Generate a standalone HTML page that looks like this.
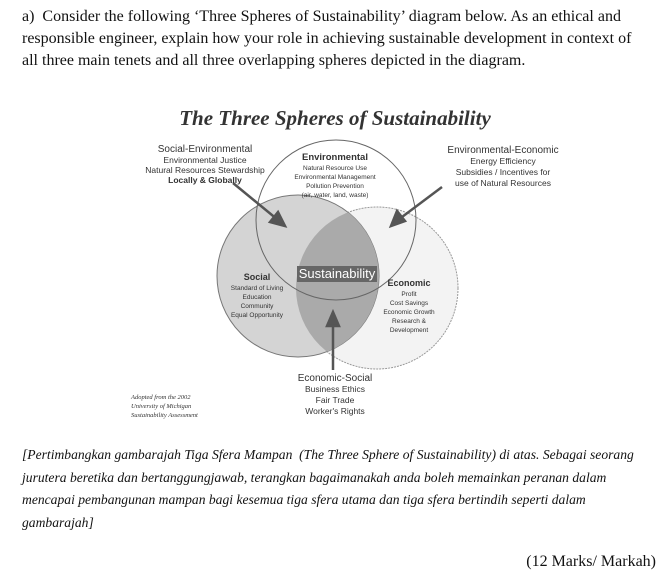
<!DOCTYPE html>
<html><head><meta charset="utf-8"><style>
body{margin:0;width:670px;height:576px;background:#fff;position:relative;overflow:hidden;font-family:"Liberation Serif",serif;color:#111}
.p{position:absolute;left:22px;top:6px;width:622px;font-size:16px;line-height:22px}
.t{position:absolute;left:0;width:670px;top:106px;text-align:center;font-size:21px;font-weight:bold;font-style:italic;color:#333}
.m{position:absolute;left:22px;top:444px;width:612px;font-size:13.6px;font-style:italic;line-height:22.5px}
.k{position:absolute;right:14px;top:553px;font-size:16px}
svg text{font-family:"Liberation Sans",sans-serif;fill:#333}
</style></head><body>
<div class="p">a)&nbsp; Consider the following ‘Three Spheres of Sustainability’ diagram below. As an ethical and responsible engineer, explain how your role in achieving sustainable development in context of all three main tenets and all three overlapping spheres depicted in the diagram.</div>
<div class="t">The Three Spheres of Sustainability</div>
<svg width="670" height="576" style="position:absolute;left:0;top:0">
<defs><clipPath id="cs"><circle cx="298" cy="276" r="81"/></clipPath></defs>
<circle cx="377" cy="288" r="81" fill="#f3f3f3" stroke="#999" stroke-dasharray="2 1"/>
<circle cx="298" cy="276" r="81" fill="#d4d4d4" stroke="#777"/>
<circle cx="377" cy="288" r="81" fill="#aaa" clip-path="url(#cs)"/>
<circle cx="336" cy="220" r="80" fill="none" stroke="#666"/>
<rect x="297" y="266" width="80" height="16" fill="#666"/>
<text x="337" y="278" font-size="13" text-anchor="middle" style="fill:#fff">Sustainability</text>
<g stroke="#555" stroke-width="2.5" fill="#555">
<line x1="233" y1="183" x2="278" y2="220"/><polygon points="285,226 270,222 278,212"/>
<line x1="442" y1="187" x2="398" y2="220"/><polygon points="391,226 397,211 405,221"/>
<line x1="333" y1="370" x2="333" y2="320"/><polygon points="333,312 327,326 339,326"/>
</g>
<g font-size="8.5" text-anchor="middle">
<text x="205" y="152" font-size="10">Social-Environmental</text>
<text x="205" y="163">Environmental Justice</text>
<text x="205" y="173">Natural Resources Stewardship</text>
<text x="205" y="183" font-weight="bold">Locally &amp; Globally</text>
<text x="335" y="160" font-weight="bold" font-size="9.5">Environmental</text>
<text x="335" y="170" font-size="6.5">Natural Resource Use</text>
<text x="335" y="179" font-size="6.5">Environmental Management</text>
<text x="335" y="188" font-size="6.5">Pollution Prevention</text>
<text x="335" y="197" font-size="6.5">(air, water, land, waste)</text>
<text x="503" y="153" font-size="10">Environmental-Economic</text>
<text x="503" y="164">Energy Efficiency</text>
<text x="503" y="175">Subsidies / Incentives for</text>
<text x="503" y="186">use of Natural Resources</text>
<text x="257" y="280" font-weight="bold" font-size="9">Social</text>
<text x="257" y="290" font-size="6.5">Standard of Living</text>
<text x="257" y="299" font-size="6.5">Education</text>
<text x="257" y="308" font-size="6.5">Community</text>
<text x="257" y="317" font-size="6.5">Equal Opportunity</text>
<text x="409" y="286" font-weight="bold" font-size="9">Economic</text>
<text x="409" y="296" font-size="6.5">Profit</text>
<text x="409" y="305" font-size="6.5">Cost Savings</text>
<text x="409" y="314" font-size="6.5">Economic Growth</text>
<text x="409" y="323" font-size="6.5">Research &amp;</text>
<text x="409" y="332" font-size="6.5">Development</text>
<text x="335" y="381" font-size="10">Economic-Social</text>
<text x="335" y="392">Business Ethics</text>
<text x="335" y="403">Fair Trade</text>
<text x="335" y="414">Worker's Rights</text>
</g>
<g font-size="6.5" font-style="italic">
<text x="131" y="399" style="font-family:'Liberation Serif',serif">Adopted from the 2002</text>
<text x="131" y="408" style="font-family:'Liberation Serif',serif">University of Michigan</text>
<text x="131" y="417" style="font-family:'Liberation Serif',serif">Sustainability Assessment</text>
</g>
</svg>
<div class="m">[Pertimbangkan gambarajah Tiga Sfera Mampan &nbsp;(The Three Sphere of Sustainability) di atas. Sebagai seorang jurutera beretika dan bertanggungjawab, terangkan bagaimanakah anda boleh memainkan peranan dalam mencapai pembangunan mampan bagi kesemua tiga sfera utama dan tiga sfera bertindih seperti dalam gambarajah]</div>
<div class="k">(12 Marks/ Markah)</div>
</body></html>
